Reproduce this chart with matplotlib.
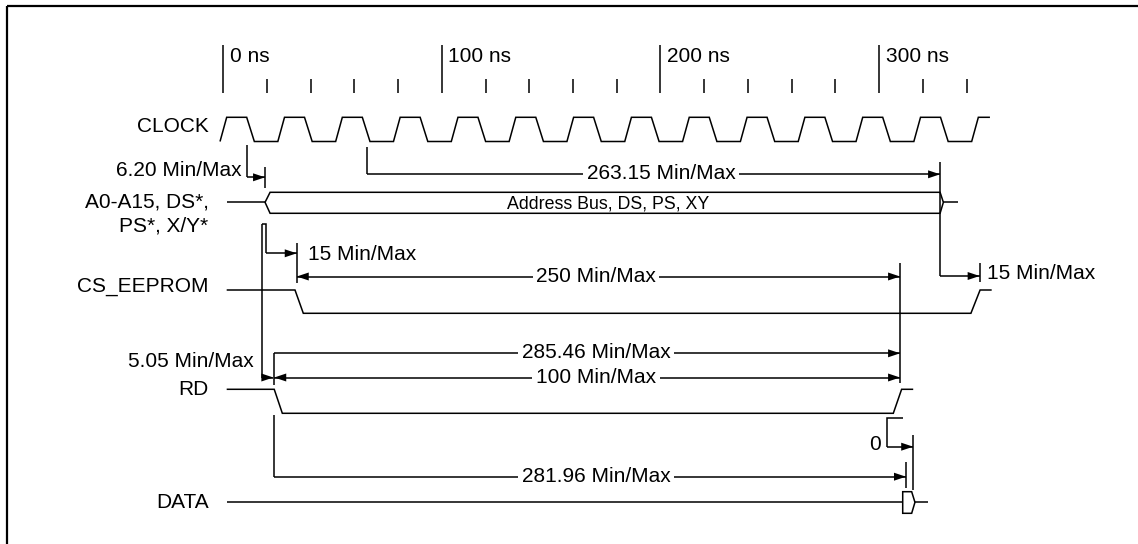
import matplotlib.pyplot as plt
from matplotlib.patches import Polygon

plt.rcParams['font.family'] = ['Liberation Sans', 'DejaVu Sans']

# time axis (ns) -> pixel mapping of the reference
PX_PER_NS = 2.186
T0_PX = 223.3
W, H = 1138, 544

# ruler
ruler_major = [0, 100, 200, 300]
ruler_labels = ['0 ns', '100 ns', '200 ns', '300 ns']
ruler_minor = [20, 40, 60, 80, 120, 140, 160, 180, 220, 240, 260, 280, 320, 340]

# clock (ns)
clock_start = -1.5
clock_period = 26.45
clock_rises = 14
clock_rise, clock_high, clock_fall = 3.05, 9.15, 3.5
clock_end = 350.7

signal_begin = 1.55
# edges (ns)
bus_edges = [19.1, 21.4, 327.9, 329.4, 336.2]
cs_edges = [32.8, 36.6, 342.0, 346.2, 351.5]
rd_edges = [23.3, 27.0, 306.5, 310.3, 315.6]
data_edges = [310.8, 314.9, 316.4, 322.5]

# timing references (ns)
t_clk_fall0 = 10.7
t_clk_fall2 = 65.9
t_cs_ref = 17.84
t_cs_ref2 = 19.53
t_bus_valid = 19.1
t_cs_fall = 33.6
t_rd_fall = 23.3
t_rd_arrow = 22.9
t_end_cycle = 309.6
t_bus_end = 327.9
t_cs_rise = 346.0
t_data_valid = 312.3
t_zero_start = 311.1
t_zero_corner = 303.8
t_data_hold = 315.6

timing_labels = ['6.20 Min/Max', '263.15 Min/Max', '15 Min/Max', '15 Min/Max',
                 '250 Min/Max', '285.46 Min/Max', '5.05 Min/Max', '100 Min/Max',
                 '281.96 Min/Max', '0']

FS = 15
LW = 1.1
HEAD_L = 12.0 / PX_PER_NS
HEAD_W = 4.0


def px(ns):
    return T0_PX + ns * PX_PER_NS


fig = plt.figure(figsize=(W / 100, H / 100), dpi=100)
ax = fig.add_axes([0, 0, 1, 1])
ax.set_xlim((0 - T0_PX) / PX_PER_NS, (W - T0_PX) / PX_PER_NS)
ax.set_ylim(H, 0)
ax.axis('off')


def line(xs, ys, lw=LW):
    ax.plot(xs, ys, color='black', lw=lw, solid_capstyle='butt',
            solid_joinstyle='miter')


def head(x, y, direction):
    ax.add_patch(Polygon([(x, y), (x - direction * HEAD_L, y - HEAD_W),
                          (x - direction * HEAD_L, y + HEAD_W)],
                         closed=True, color='black', lw=0))


def arrow(x1, x2, y, double=False):
    line([x1, x2], [y, y])
    d = 1 if x2 > x1 else -1
    head(x2, y, d)
    if double:
        head(x1, y, -d)


def label_on(text, x, y):
    ax.text(x, y, text, fontsize=FS, ha='center', va='center',
            bbox=dict(facecolor='white', edgecolor='none', pad=2.5))


# frame (top and left only)
line([(7 - T0_PX) / PX_PER_NS, (W - T0_PX) / PX_PER_NS], [6, 6], lw=1.6)
line([(7 - T0_PX) / PX_PER_NS] * 2, [6, H], lw=1.6)

# ruler
for t, lab in zip(ruler_major, ruler_labels):
    line([t, t], [45, 93])
    ax.text(t + 3.0, 56, lab, fontsize=FS, ha='left', va='center')
for t in ruler_minor:
    line([t, t], [79, 93])

# signal names
name_x = -6.8
ax.text(name_x, 126.5, 'CLOCK', fontsize=FS, ha='right', va='center')
ax.text(name_x, 202, 'A0-A15, DS*,', fontsize=FS, ha='right', va='center')
ax.text(name_x, 225.5, 'PS*, X/Y*', fontsize=FS, ha='right', va='center')
ax.text(name_x, 287, 'CS_EEPROM', fontsize=FS, ha='right', va='center')
ax.text(name_x, 389.5, 'RD', fontsize=FS, ha='right', va='center')
ax.text(name_x, 502.5, 'DATA', fontsize=FS, ha='right', va='center')

# CLOCK
ch, cl = 117.3, 141.5
cx, cy = [clock_start], [cl]
for k in range(clock_rises):
    r = clock_start + k * clock_period
    pts = [(r + clock_rise, ch), (r + clock_rise + clock_high, ch),
           (r + clock_rise + clock_high + clock_fall, cl), (r + clock_period, cl)]
    for x, y in pts:
        if x > clock_end:
            break
        cx.append(x)
        cy.append(y)
cx.append(clock_end)
cy.append(ch)
line(cx, cy)

# Address bus
bt, bm, bb = 192.3, 202.3, 213.3
line([signal_begin, bus_edges[0]], [bm, bm])
ax.add_patch(Polygon([(bus_edges[0], bm), (bus_edges[1], bt), (bus_edges[2], bt),
                      (bus_edges[3], bm), (bus_edges[2], bb), (bus_edges[1], bb)],
                     closed=True, facecolor='none', edgecolor='black', lw=LW))
line([bus_edges[3], bus_edges[4]], [bm, bm])
ax.text(176, 204, 'Address Bus, DS, PS, XY', fontsize=12.8, ha='center', va='center')

# CS_EEPROM
sh, sl = 290, 313.3
line([signal_begin, cs_edges[0], cs_edges[1], cs_edges[2], cs_edges[3], cs_edges[4]],
     [sh, sh, sl, sl, sh, sh])

# RD
rh, rl = 389.3, 413.3
line([signal_begin, rd_edges[0], rd_edges[1], rd_edges[2], rd_edges[3], rd_edges[4]],
     [rh, rh, rl, rl, rh, rh])

# DATA
dy, dt, db = 502.3, 491.7, 513.3
line([signal_begin, data_edges[0]], [dy, dy])
ax.add_patch(Polygon([(data_edges[0], dt), (data_edges[1], dt), (data_edges[2], dy),
                      (data_edges[1], db), (data_edges[0], db)],
                     closed=True, facecolor='none', edgecolor='black', lw=LW))
line([data_edges[2], data_edges[3]], [dy, dy])

# 6.20 Min/Max
line([t_clk_fall0, t_clk_fall0], [145, 177.3])
arrow(t_clk_fall0, t_bus_valid, 177.3)
line([t_bus_valid, t_bus_valid], [166.7, 188])
ax.text(8.4, 170, timing_labels[0], fontsize=FS, ha='right', va='center')

# 263.15 Min/Max
line([t_clk_fall2, t_clk_fall2], [146.7, 174.3])
arrow(t_clk_fall2, t_bus_end, 174.3)
line([t_bus_end, t_bus_end], [161.7, 276])
label_on(timing_labels[1], 200.2, 173.5)

# 15 Min/Max (bus end -> CS rise)
arrow(t_bus_end, t_cs_rise, 276)
line([t_cs_rise, t_cs_rise], [263.3, 282])
ax.text(t_cs_rise + 3.5, 273.5, timing_labels[2], fontsize=FS, ha='left', va='center')

# 15 Min/Max (bus valid -> CS fall)
line([t_cs_ref, t_cs_ref2, t_cs_ref2], [224, 224, 253.3])
arrow(t_cs_ref2, t_cs_fall, 253.3)
line([t_cs_fall, t_cs_fall], [243, 283.3])
ax.text(t_cs_fall + 5.3, 254.5, timing_labels[3], fontsize=FS, ha='left', va='center')

# 250 Min/Max
arrow(t_cs_fall, t_end_cycle, 276.5, double=True)
line([t_end_cycle, t_end_cycle], [263, 383.3])
label_on(timing_labels[4], 170.5, 276.5)

# 285.46 Min/Max
line([t_rd_fall, t_rd_fall], [385, 353.3])
arrow(t_rd_fall, t_end_cycle, 353.3)
label_on(timing_labels[5], 170.5, 353)

# 5.05 Min/Max
line([t_cs_ref, t_cs_ref], [224, 377.5])
arrow(t_cs_ref, t_rd_arrow, 377.5)
ax.text(13.9, 361.5, timing_labels[6], fontsize=FS, ha='right', va='center')

# 100 Min/Max
arrow(t_rd_fall, t_end_cycle, 377.5, double=True)
label_on(timing_labels[7], 170.5, 377.5)

# 281.96 Min/Max
line([t_rd_fall, t_rd_fall], [415, 476.7])
arrow(t_rd_fall, t_data_valid, 476.7)
line([t_data_valid, t_data_valid], [461.7, 488.3])
label_on(timing_labels[8], 170.5, 476.7)

# 0
line([t_zero_start, t_zero_corner, t_zero_corner], [418.3, 418.3, 446.7])
arrow(t_zero_corner, t_data_hold, 446.7)
line([t_data_hold, t_data_hold], [435, 490])
ax.text(t_zero_corner - 3.0, 444, timing_labels[9], fontsize=FS, ha='right', va='center')

fig.savefig('out.png', dpi=100)
